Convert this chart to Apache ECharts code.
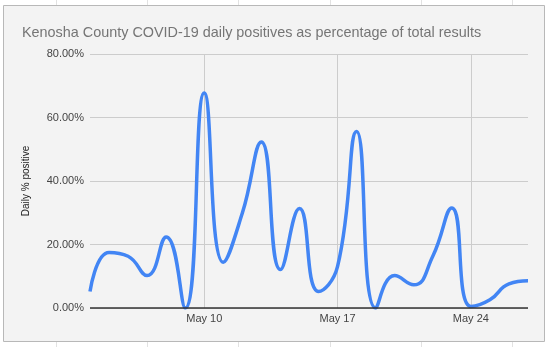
<!DOCTYPE html>
<html>
<head>
<meta charset="utf-8">
<script src="https://cdn.jsdelivr.net/npm/echarts@6/dist/echarts.min.js"></script>
<style>html,body{margin:0;padding:0;background:#fff;}#c{width:550px;height:347px;}</style>
</head>
<body>
<div id="c"></div>
<script>
const dates = ['May 4','May 5','May 6','May 7','May 8','May 9','May 10','May 11','May 12','May 13','May 14','May 15','May 16','May 17','May 18','May 19','May 20','May 21','May 22','May 23','May 24','May 25','May 26','May 27'];
const positivePct = [5.2,17.5,16.3,10.2,22.4,0,67.7,14.4,29.9,52.3,12.1,31.3,5.2,13.1,55.6,0,10.2,7.3,16.3,31.5,0.5,2.6,7.6,8.6];
const labeledDates = ['May 10','May 17','May 24'];
const yTicks = [0,20,40,60,80];

const chart = echarts.init(document.getElementById('c'), null, {renderer:'canvas'});
const showIdx = (i, v) => labeledDates.indexOf(dates[i]) >= 0;
const sheetLines = [56,147,238,330,421,512];
const graphics = [
  {type:'rect', z:-10, silent:true, shape:{x:3.5,y:5.5,width:541,height:336}, style:{fill:'#f3f3f3', stroke:'#b8b8b8', lineWidth:1}}
];
sheetLines.forEach(x => {
  graphics.push({type:'line', z:-20, silent:true, shape:{x1:x+0.5,y1:0,x2:x+0.5,y2:5}, style:{stroke:'#e2e2e2', lineWidth:1}});
  graphics.push({type:'line', z:-20, silent:true, shape:{x1:x+0.5,y1:342,x2:x+0.5,y2:347}, style:{stroke:'#e2e2e2', lineWidth:1}});
});
chart.setOption({
  animation:false,
  backgroundColor:'#ffffff',
  graphic: graphics,
  title:{
    text:'Kenosha County COVID-19 daily positives as percentage of total results',
    left:17, top:21,
    textStyle:{fontFamily:'Liberation Sans, Arial', fontSize:14.4, fontWeight:'normal', color:'#757575'}
  },
  grid:{left:90, right:22, top:54, bottom:39},
  xAxis:{
    type:'category', data:dates, boundaryGap:false,
    axisLine:{show:false}, axisTick:{show:false},
    axisLabel:{interval:showIdx, color:'#444', fontSize:11, fontFamily:'Liberation Sans, Arial', margin:5},
    splitLine:{show:true, interval:showIdx, lineStyle:{color:'#cccccc', width:1}}
  },
  yAxis:{
    type:'value', min:yTicks[0], max:yTicks[yTicks.length-1], interval:20,
    name:'Daily % positive', nameLocation:'middle', nameGap:59, nameRotate:90,
    nameTextStyle:{color:'#222', fontSize:10, fontFamily:'Liberation Sans, Arial'},
    axisLine:{show:false}, axisTick:{show:false},
    axisLabel:{formatter:v => v.toFixed(2)+'%', color:'#444', fontSize:11, fontFamily:'Liberation Sans, Arial', margin:6},
    splitLine:{lineStyle:{color:'#cccccc', width:1}}
  },
  series:[{
    type:'line', data:positivePct, smooth:0.5, showSymbol:false,
    lineStyle:{color:'#4285f4', width:3.5},
    markLine:{silent:true, symbol:'none', label:{show:false}, lineStyle:{color:'#333', width:1.5, type:'solid'}, data:[{yAxis:0}]}
  }]
});
</script>
</body>
</html>
